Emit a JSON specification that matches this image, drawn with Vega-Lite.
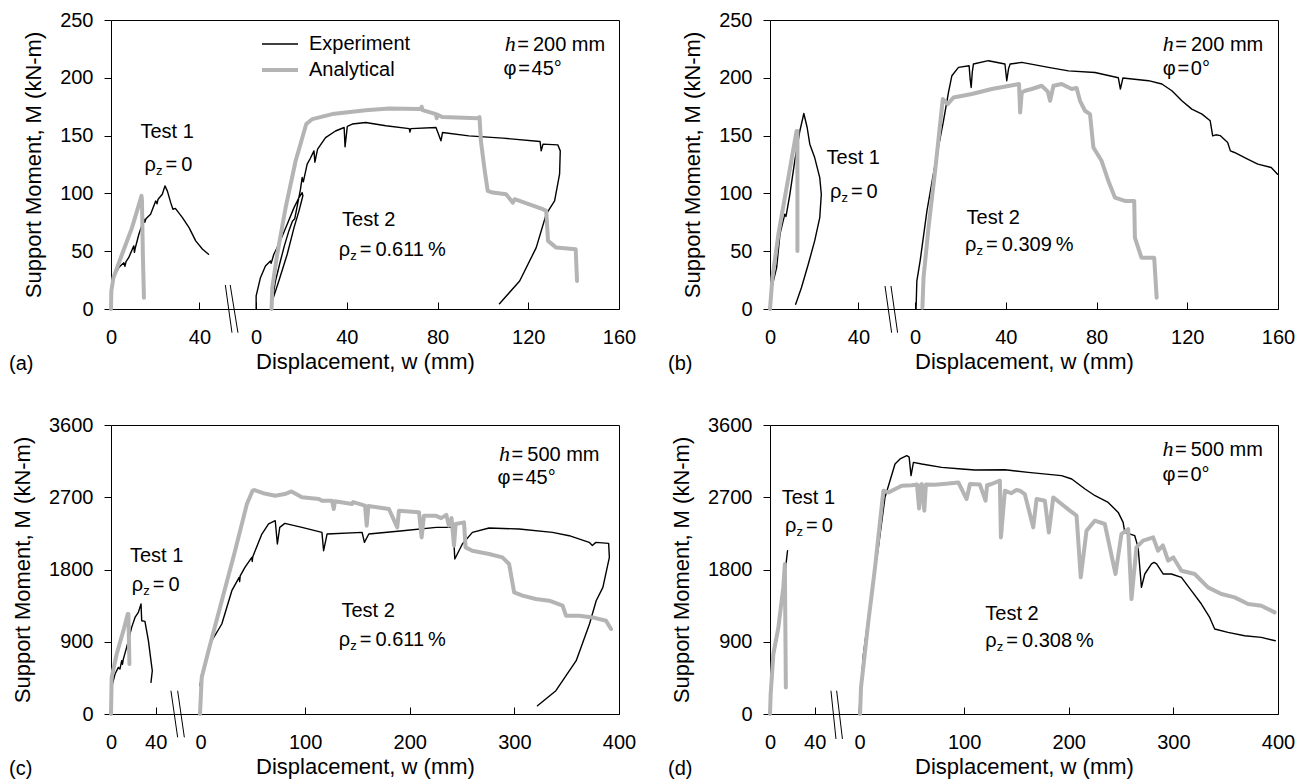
{
"$schema": "https://vega.github.io/schema/vega-lite/v6.json",
"padding": {"left": 8, "top": 9, "right": 5, "bottom": 5},
"config": {
 "font": "Liberation Sans",
 "view": {"stroke": "black", "strokeWidth": 1},
 "axis": {"grid": false, "domain": false, "tickColor": "black", "tickWidth": 1, "labelColor": "black", "titleColor": "black", "labelFont": "Liberation Sans", "titleFont": "Liberation Sans", "labelFontSize": 20, "titleFontSize": 22, "titleFontWeight": "normal", "labelFlush": false, "labelOverlap": false, "format": "d"},
 "axisX": {"tickSize": -7, "labelPadding": 25, "titlePadding": 4},
 "axisY": {"tickSize": 7, "labelPadding": 11, "titlePadding": 14},
 "text": {"font": "Liberation Sans", "fontSize": 20, "color": "black"},
 "rule": {"color": "black", "strokeWidth": 1},
 "line": {"strokeJoin": "round", "strokeCap": "round"}
},
"datasets": {
 "a1": [
  {"s":"Experiment","w":0,"M":0},{"s":"Experiment","w":0.2,"M":12.7},{"s":"Experiment","w":1.2,"M":27},{"s":"Experiment","w":3.5,"M":35.8},{"s":"Experiment","w":5.8,"M":40},{"s":"Experiment","w":6.3,"M":37},{"s":"Experiment","w":6.8,"M":41},{"s":"Experiment","w":8,"M":44.4},{"s":"Experiment","w":10.3,"M":54.6},{"s":"Experiment","w":10.6,"M":49},{"s":"Experiment","w":11,"M":53},{"s":"Experiment","w":12.6,"M":64.7},{"s":"Experiment","w":14.9,"M":77.7},{"s":"Experiment","w":15.3,"M":75},{"s":"Experiment","w":15.8,"M":78},{"s":"Experiment","w":17.9,"M":82},{"s":"Experiment","w":20.2,"M":93.5},{"s":"Experiment","w":20.8,"M":91},{"s":"Experiment","w":21.3,"M":95},{"s":"Experiment","w":23.2,"M":99.3},{"s":"Experiment","w":24.4,"M":106.5},{"s":"Experiment","w":25.5,"M":102},{"s":"Experiment","w":27,"M":92},{"s":"Experiment","w":28,"M":86.3},{"s":"Experiment","w":29.1,"M":87},{"s":"Experiment","w":32.3,"M":79},{"s":"Experiment","w":35.3,"M":70.4},{"s":"Experiment","w":38.3,"M":58.9},{"s":"Experiment","w":41.4,"M":51.7},{"s":"Experiment","w":44.1,"M":47.4},
  {"s":"Analytical","w":0,"M":0},{"s":"Analytical","w":0.15,"M":15.6},{"s":"Analytical","w":1.1,"M":27},{"s":"Analytical","w":5,"M":47.4},{"s":"Analytical","w":9.5,"M":70.4},{"s":"Analytical","w":13.8,"M":97.9},{"s":"Analytical","w":14,"M":94},{"s":"Analytical","w":14.4,"M":47.4},{"s":"Analytical","w":14.9,"M":9.8}
 ],
 "a2": [
  {"s":"Experiment","w":0,"M":0},{"s":"Experiment","w":0,"M":11.3},{"s":"Experiment","w":1.9,"M":27.1},{"s":"Experiment","w":4.1,"M":37.2},{"s":"Experiment","w":6.3,"M":41.6},{"s":"Experiment","w":6.6,"M":39.5},{"s":"Experiment","w":7,"M":42},{"s":"Experiment","w":7.8,"M":47.4},{"s":"Experiment","w":10,"M":56},{"s":"Experiment","w":13.7,"M":73.3},{"s":"Experiment","w":16.7,"M":87.7},{"s":"Experiment","w":18.9,"M":96.4},{"s":"Experiment","w":20.3,"M":100.7},{"s":"Experiment","w":20.6,"M":98},{"s":"Experiment","w":18.9,"M":84.9},{"s":"Experiment","w":16.7,"M":70.4},{"s":"Experiment","w":13.7,"M":47.4},{"s":"Experiment","w":10,"M":24.2},{"s":"Experiment","w":7.1,"M":6.9},{"s":"Experiment","w":8.5,"M":24},{"s":"Experiment","w":10.5,"M":40},{"s":"Experiment","w":12.5,"M":55},{"s":"Experiment","w":14.5,"M":68},{"s":"Experiment","w":16,"M":76},{"s":"Experiment","w":17,"M":78},{"s":"Experiment","w":18,"M":88},{"s":"Experiment","w":19.5,"M":103},{"s":"Experiment","w":20.3,"M":113.7},{"s":"Experiment","w":20.8,"M":110},{"s":"Experiment","w":22.5,"M":125.3},{"s":"Experiment","w":23.8,"M":130},{"s":"Experiment","w":25.5,"M":136.8},{"s":"Experiment","w":25.9,"M":127},{"s":"Experiment","w":27.1,"M":138.3},{"s":"Experiment","w":30.6,"M":148.3},{"s":"Experiment","w":35,"M":154},{"s":"Experiment","w":38.8,"M":157},{"s":"Experiment","w":39.2,"M":140.3},{"s":"Experiment","w":40.2,"M":158},{"s":"Experiment","w":42.4,"M":160},{"s":"Experiment","w":48.3,"M":161.3},{"s":"Experiment","w":57.2,"M":158.5},{"s":"Experiment","w":67.5,"M":156},{"s":"Experiment","w":67.8,"M":153},{"s":"Experiment","w":68.2,"M":156},{"s":"Experiment","w":79.3,"M":157},{"s":"Experiment","w":81.5,"M":145.5},{"s":"Experiment","w":82.2,"M":152.7},{"s":"Experiment","w":93.8,"M":149.8},{"s":"Experiment","w":108.7,"M":147.8},{"s":"Experiment","w":125.2,"M":144.9},{"s":"Experiment","w":125.7,"M":136.8},{"s":"Experiment","w":126.5,"M":142.6},{"s":"Experiment","w":133,"M":142},{"s":"Experiment","w":134.1,"M":136.8},{"s":"Experiment","w":133.8,"M":116.6},{"s":"Experiment","w":131.6,"M":93.5},{"s":"Experiment","w":127.9,"M":82},{"s":"Experiment","w":123.5,"M":53.1},{"s":"Experiment","w":116.2,"M":24.2},{"s":"Experiment","w":107.3,"M":4.6},
  {"s":"Analytical","w":6.8,"M":0},{"s":"Analytical","w":7.1,"M":18.4},{"s":"Analytical","w":9.3,"M":47.4},{"s":"Analytical","w":13,"M":87.7},{"s":"Analytical","w":17.4,"M":128},{"s":"Analytical","w":22.1,"M":160},{"s":"Analytical","w":24.8,"M":164.3},{"s":"Analytical","w":33.6,"M":168.6},{"s":"Analytical","w":48.3,"M":172},{"s":"Analytical","w":58.6,"M":173.5},{"s":"Analytical","w":72.6,"M":173},{"s":"Analytical","w":73,"M":175},{"s":"Analytical","w":73.4,"M":172},{"s":"Analytical","w":79.3,"M":168.6},{"s":"Analytical","w":79.6,"M":165},{"s":"Analytical","w":80,"M":168},{"s":"Analytical","w":82.2,"M":166},{"s":"Analytical","w":97.7,"M":165},{"s":"Analytical","w":98.5,"M":166},{"s":"Analytical","w":99.1,"M":145.5},{"s":"Analytical","w":100.6,"M":122.4},{"s":"Analytical","w":102.1,"M":102.2},{"s":"Analytical","w":104.3,"M":100.7},{"s":"Analytical","w":110.2,"M":99.3},{"s":"Analytical","w":113.2,"M":92},{"s":"Analytical","w":114,"M":95},{"s":"Analytical","w":120.5,"M":90.6},{"s":"Analytical","w":126.4,"M":86.3},{"s":"Analytical","w":127.9,"M":84.9},{"s":"Analytical","w":128.7,"M":58.9},{"s":"Analytical","w":132.3,"M":53.1},{"s":"Analytical","w":140.9,"M":51.7},{"s":"Analytical","w":141.5,"M":24.2}
 ],
 "b1": [
  {"s":"Experiment","w":0,"M":0},{"s":"Experiment","w":0.8,"M":18.4},{"s":"Experiment","w":1.9,"M":27.1},{"s":"Experiment","w":3,"M":35.8},{"s":"Experiment","w":4.5,"M":64.7},{"s":"Experiment","w":6.7,"M":82},{"s":"Experiment","w":7.2,"M":80},{"s":"Experiment","w":7.6,"M":84},{"s":"Experiment","w":9,"M":99.3},{"s":"Experiment","w":11.2,"M":128.2},{"s":"Experiment","w":13.5,"M":154},{"s":"Experiment","w":15.3,"M":169.1},{"s":"Experiment","w":16.8,"M":157},{"s":"Experiment","w":18,"M":142.6},{"s":"Experiment","w":20.2,"M":131},{"s":"Experiment","w":22.5,"M":113.7},{"s":"Experiment","w":23.2,"M":99.3},{"s":"Experiment","w":22.5,"M":79},{"s":"Experiment","w":20.2,"M":58.9},{"s":"Experiment","w":17.3,"M":38.7},{"s":"Experiment","w":14.2,"M":18.4},{"s":"Experiment","w":11.6,"M":4.1},
  {"s":"Analytical","w":0,"M":0},{"s":"Analytical","w":1.1,"M":27.1},{"s":"Analytical","w":3.8,"M":64.7},{"s":"Analytical","w":7.5,"M":105},{"s":"Analytical","w":12,"M":154},{"s":"Analytical","w":12.4,"M":154},{"s":"Analytical","w":12.4,"M":50.2}
 ],
 "b2": [
  {"s":"Experiment","w":0.4,"M":0},{"s":"Experiment","w":0.75,"M":24.2},{"s":"Experiment","w":2.2,"M":41.6},{"s":"Experiment","w":5.2,"M":84.9},{"s":"Experiment","w":8.8,"M":125.3},{"s":"Experiment","w":12.5,"M":162.8},{"s":"Experiment","w":14.7,"M":187.3},{"s":"Experiment","w":16.2,"M":201.8},{"s":"Experiment","w":19.1,"M":209},{"s":"Experiment","w":23.8,"M":210.4},{"s":"Experiment","w":24.2,"M":200},{"s":"Experiment","w":24.7,"M":191.6},{"s":"Experiment","w":25.2,"M":205},{"s":"Experiment","w":25.7,"M":211.9},{"s":"Experiment","w":32.3,"M":214.8},{"s":"Experiment","w":39.6,"M":211.9},{"s":"Experiment","w":40.4,"M":197.5},{"s":"Experiment","w":41.2,"M":208},{"s":"Experiment","w":41.9,"M":211.9},{"s":"Experiment","w":47,"M":213.3},{"s":"Experiment","w":58.8,"M":209},{"s":"Experiment","w":67.6,"M":206},{"s":"Experiment","w":79.3,"M":204.6},{"s":"Experiment","w":89.6,"M":200},{"s":"Experiment","w":90.5,"M":190.3},{"s":"Experiment","w":91.6,"M":199.8},{"s":"Experiment","w":102.9,"M":197.5},{"s":"Experiment","w":108.8,"M":194.6},{"s":"Experiment","w":113.2,"M":188.8},{"s":"Experiment","w":117.6,"M":180.1},{"s":"Experiment","w":122,"M":172.9},{"s":"Experiment","w":126.5,"M":168.6},{"s":"Experiment","w":130.1,"M":162.8},{"s":"Experiment","w":131.2,"M":149.8},{"s":"Experiment","w":132.6,"M":150.7},{"s":"Experiment","w":134.5,"M":150},{"s":"Experiment","w":137.8,"M":144},{"s":"Experiment","w":139,"M":136.8},{"s":"Experiment","w":140.8,"M":135.4},{"s":"Experiment","w":146.6,"M":129.6},{"s":"Experiment","w":151.1,"M":125.3},{"s":"Experiment","w":157,"M":122.4},{"s":"Experiment","w":159.8,"M":116.6},
  {"s":"Analytical","w":3.2,"M":1.1},{"s":"Analytical","w":3.7,"M":27.1},{"s":"Analytical","w":5.9,"M":70.4},{"s":"Analytical","w":8.8,"M":119.5},{"s":"Analytical","w":12.2,"M":181.6},{"s":"Analytical","w":14.4,"M":177.3},{"s":"Analytical","w":16.9,"M":183},{"s":"Analytical","w":25,"M":186},{"s":"Analytical","w":33.8,"M":190.3},{"s":"Analytical","w":44.1,"M":194},{"s":"Analytical","w":45.8,"M":194.6},{"s":"Analytical","w":46.3,"M":170},{"s":"Analytical","w":47,"M":187.3},{"s":"Analytical","w":48.5,"M":188.8},{"s":"Analytical","w":51.4,"M":190.3},{"s":"Analytical","w":55.8,"M":193.1},{"s":"Analytical","w":58.5,"M":188},{"s":"Analytical","w":59.5,"M":180.1},{"s":"Analytical","w":61,"M":193.1},{"s":"Analytical","w":64.6,"M":194.6},{"s":"Analytical","w":69,"M":190.3},{"s":"Analytical","w":71.2,"M":191.1},{"s":"Analytical","w":72.7,"M":180.1},{"s":"Analytical","w":74.9,"M":171.5},{"s":"Analytical","w":77.1,"M":168.6},{"s":"Analytical","w":78.6,"M":139.7},{"s":"Analytical","w":82.2,"M":128.2},{"s":"Analytical","w":85.2,"M":110.8},{"s":"Analytical","w":88.1,"M":96.4},{"s":"Analytical","w":92.5,"M":93.5},{"s":"Analytical","w":96.6,"M":93.5},{"s":"Analytical","w":96.9,"M":61.7},{"s":"Analytical","w":99.8,"M":44.4},{"s":"Analytical","w":105.4,"M":44.4},{"s":"Analytical","w":106.5,"M":9.8}
 ],
 "c1": [
  {"s":"Experiment","w":0,"M":0},{"s":"Experiment","w":0.6,"M":331},{"s":"Experiment","w":3.6,"M":498},{"s":"Experiment","w":6.6,"M":581},{"s":"Experiment","w":8,"M":560},{"s":"Experiment","w":9.6,"M":664},{"s":"Experiment","w":10.3,"M":620},{"s":"Experiment","w":11,"M":680},{"s":"Experiment","w":14,"M":830},{"s":"Experiment","w":18.5,"M":1079},{"s":"Experiment","w":21.5,"M":1203},{"s":"Experiment","w":24.5,"M":1266},{"s":"Experiment","w":26.9,"M":1370},{"s":"Experiment","w":27.5,"M":1162},{"s":"Experiment","w":30.4,"M":1154},{"s":"Experiment","w":33.5,"M":913},{"s":"Experiment","w":35.8,"M":664},{"s":"Experiment","w":37,"M":539},{"s":"Experiment","w":35.8,"M":394},
  {"s":"Analytical","w":0,"M":0},{"s":"Analytical","w":0.6,"M":456},{"s":"Analytical","w":5.1,"M":747},{"s":"Analytical","w":11.1,"M":1038},{"s":"Analytical","w":15,"M":1246},{"s":"Analytical","w":15.6,"M":1246},{"s":"Analytical","w":16.5,"M":623}
 ],
 "c2": [
  {"s":"Experiment","w":-0.4,"M":353},{"s":"Experiment","w":1.2,"M":498},{"s":"Experiment","w":10.9,"M":913},{"s":"Experiment","w":20.4,"M":1121},{"s":"Experiment","w":30,"M":1536},{"s":"Experiment","w":37,"M":1702},{"s":"Experiment","w":37.5,"M":1650},{"s":"Experiment","w":38,"M":1720},{"s":"Experiment","w":42.5,"M":1826},{"s":"Experiment","w":49.1,"M":1951},{"s":"Experiment","w":49.5,"M":1900},{"s":"Experiment","w":50,"M":1960},{"s":"Experiment","w":58.7,"M":2242},{"s":"Experiment","w":65.1,"M":2367},{"s":"Experiment","w":71.5,"M":2408},{"s":"Experiment","w":73.5,"M":2118},{"s":"Experiment","w":75.8,"M":2325},{"s":"Experiment","w":80.6,"M":2374},{"s":"Experiment","w":97,"M":2325},{"s":"Experiment","w":116.1,"M":2262},{"s":"Experiment","w":117.7,"M":2034},{"s":"Experiment","w":121,"M":2242},{"s":"Experiment","w":154.5,"M":2262},{"s":"Experiment","w":156.7,"M":2138},{"s":"Experiment","w":160.9,"M":2242},{"s":"Experiment","w":193.4,"M":2283},{"s":"Experiment","w":225.4,"M":2325},{"s":"Experiment","w":241.4,"M":2325},{"s":"Experiment","w":243.1,"M":1931},{"s":"Experiment","w":250.3,"M":2118},{"s":"Experiment","w":259.9,"M":2262},{"s":"Experiment","w":275.8,"M":2317},{"s":"Experiment","w":304.5,"M":2304},{"s":"Experiment","w":336.4,"M":2262},{"s":"Experiment","w":352.4,"M":2221},{"s":"Experiment","w":371.5,"M":2138},{"s":"Experiment","w":374.5,"M":2100},{"s":"Experiment","w":377.9,"M":2138},{"s":"Experiment","w":390.1,"M":2125},{"s":"Experiment","w":390.8,"M":1951},{"s":"Experiment","w":384.6,"M":1577},{"s":"Experiment","w":378.2,"M":1411},{"s":"Experiment","w":371.8,"M":1121},{"s":"Experiment","w":359.1,"M":664},{"s":"Experiment","w":339.7,"M":290},{"s":"Experiment","w":322.1,"M":103},
  {"s":"Analytical","w":-0.4,"M":0},{"s":"Analytical","w":1.2,"M":456},{"s":"Analytical","w":7.7,"M":789},{"s":"Analytical","w":20.4,"M":1411},{"s":"Analytical","w":33.1,"M":2034},{"s":"Analytical","w":44.4,"M":2616},{"s":"Analytical","w":49.8,"M":2782},{"s":"Analytical","w":51.6,"M":2790},{"s":"Analytical","w":60,"M":2750},{"s":"Analytical","w":71.5,"M":2719},{"s":"Analytical","w":80.6,"M":2740},{"s":"Analytical","w":87,"M":2773},{"s":"Analytical","w":97,"M":2700},{"s":"Analytical","w":113.2,"M":2678},{"s":"Analytical","w":116.1,"M":2657},{"s":"Analytical","w":125.7,"M":2657},{"s":"Analytical","w":127.4,"M":2554},{"s":"Analytical","w":128.5,"M":2650},{"s":"Analytical","w":144.9,"M":2616},{"s":"Analytical","w":146,"M":2640},{"s":"Analytical","w":157.3,"M":2595},{"s":"Analytical","w":158.9,"M":2346},{"s":"Analytical","w":160.5,"M":2590},{"s":"Analytical","w":180.1,"M":2554},{"s":"Analytical","w":188.1,"M":2325},{"s":"Analytical","w":189.7,"M":2533},{"s":"Analytical","w":208.9,"M":2512},{"s":"Analytical","w":211.4,"M":2200},{"s":"Analytical","w":213.6,"M":2471},{"s":"Analytical","w":224.7,"M":2471},{"s":"Analytical","w":230,"M":2440},{"s":"Analytical","w":235,"M":2480},{"s":"Analytical","w":237.4,"M":2346},{"s":"Analytical","w":240,"M":2440},{"s":"Analytical","w":242.3,"M":2097},{"s":"Analytical","w":243.9,"M":2367},{"s":"Analytical","w":251.9,"M":2387},{"s":"Analytical","w":253.4,"M":2076},{"s":"Analytical","w":259.8,"M":2034},{"s":"Analytical","w":275.8,"M":1993},{"s":"Analytical","w":288.6,"M":1951},{"s":"Analytical","w":295,"M":1868},{"s":"Analytical","w":299.8,"M":1515},{"s":"Analytical","w":307.8,"M":1474},{"s":"Analytical","w":320.5,"M":1432},{"s":"Analytical","w":333.3,"M":1411},{"s":"Analytical","w":346.1,"M":1349},{"s":"Analytical","w":349.3,"M":1225},{"s":"Analytical","w":362.1,"M":1225},{"s":"Analytical","w":374.8,"M":1203},{"s":"Analytical","w":387.6,"M":1162},{"s":"Analytical","w":392.4,"M":1059}
 ],
 "d1": [
  {"s":"Experiment","w":0,"M":0},{"s":"Experiment","w":0.9,"M":374},{"s":"Experiment","w":3,"M":705},{"s":"Experiment","w":6,"M":913},{"s":"Experiment","w":8.9,"M":1203},{"s":"Experiment","w":11.9,"M":1536},{"s":"Experiment","w":14,"M":1826},{"s":"Experiment","w":15.7,"M":2034},
  {"s":"Analytical","w":0,"M":0},{"s":"Analytical","w":0.6,"M":249},{"s":"Analytical","w":3,"M":747},{"s":"Analytical","w":7.5,"M":1079},{"s":"Analytical","w":11.9,"M":1577},{"s":"Analytical","w":13.3,"M":1868},{"s":"Analytical","w":14.2,"M":331}
 ],
 "d2": [
  {"s":"Experiment","w":-0.4,"M":0},{"s":"Experiment","w":3.8,"M":747},{"s":"Experiment","w":10.1,"M":1370},{"s":"Experiment","w":18.1,"M":2076},{"s":"Experiment","w":24.4,"M":2698},{"s":"Experiment","w":29.2,"M":2906},{"s":"Experiment","w":34,"M":3114},{"s":"Experiment","w":38.8,"M":3177},{"s":"Experiment","w":45.2,"M":3218},{"s":"Experiment","w":47.5,"M":3200},{"s":"Experiment","w":49.3,"M":2969},{"s":"Experiment","w":51.6,"M":3134},{"s":"Experiment","w":59.5,"M":3114},{"s":"Experiment","w":78.6,"M":3072},{"s":"Experiment","w":97.7,"M":3052},{"s":"Experiment","w":110.4,"M":3040},{"s":"Experiment","w":139,"M":3043},{"s":"Experiment","w":161.3,"M":3010},{"s":"Experiment","w":193.1,"M":2969},{"s":"Experiment","w":202.9,"M":2927},{"s":"Experiment","w":215.6,"M":2803},{"s":"Experiment","w":225.2,"M":2719},{"s":"Experiment","w":237.7,"M":2636},{"s":"Experiment","w":247.3,"M":2511},{"s":"Experiment","w":252,"M":2387},{"s":"Experiment","w":253.6,"M":2262},{"s":"Experiment","w":263.1,"M":2221},{"s":"Experiment","w":266.3,"M":2076},{"s":"Experiment","w":269.5,"M":1577},{"s":"Experiment","w":272.7,"M":1744},{"s":"Experiment","w":279.1,"M":1869},{"s":"Experiment","w":281.6,"M":1889},{"s":"Experiment","w":284,"M":1870},{"s":"Experiment","w":290.2,"M":1744},{"s":"Experiment","w":298.1,"M":1744},{"s":"Experiment","w":307.7,"M":1702},{"s":"Experiment","w":317.2,"M":1536},{"s":"Experiment","w":326.8,"M":1370},{"s":"Experiment","w":334.7,"M":1203},{"s":"Experiment","w":339.5,"M":1059},{"s":"Experiment","w":352.2,"M":1017},{"s":"Experiment","w":368.1,"M":975},{"s":"Experiment","w":384,"M":954},{"s":"Experiment","w":397.4,"M":913},
  {"s":"Analytical","w":0.6,"M":0},{"s":"Analytical","w":1.5,"M":331},{"s":"Analytical","w":8.6,"M":1162},{"s":"Analytical","w":14.9,"M":1826},{"s":"Analytical","w":22.9,"M":2782},{"s":"Analytical","w":27.7,"M":2760},{"s":"Analytical","w":40.4,"M":2844},{"s":"Analytical","w":50,"M":2850},{"s":"Analytical","w":55,"M":2860},{"s":"Analytical","w":57,"M":2560},{"s":"Analytical","w":58.5,"M":2850},{"s":"Analytical","w":59.5,"M":2865},{"s":"Analytical","w":62,"M":2533},{"s":"Analytical","w":63.5,"M":2860},{"s":"Analytical","w":72.2,"M":2857},{"s":"Analytical","w":85,"M":2870},{"s":"Analytical","w":94.5,"M":2885},{"s":"Analytical","w":102.4,"M":2678},{"s":"Analytical","w":105.6,"M":2865},{"s":"Analytical","w":115,"M":2860},{"s":"Analytical","w":120.5,"M":2657},{"s":"Analytical","w":122,"M":2850},{"s":"Analytical","w":126.3,"M":2865},{"s":"Analytical","w":134.2,"M":2906},{"s":"Analytical","w":135.2,"M":2200},{"s":"Analytical","w":139,"M":2782},{"s":"Analytical","w":145,"M":2750},{"s":"Analytical","w":150,"M":2790},{"s":"Analytical","w":153.3,"M":2782},{"s":"Analytical","w":158,"M":2740},{"s":"Analytical","w":166.1,"M":2325},{"s":"Analytical","w":169.3,"M":2678},{"s":"Analytical","w":177.2,"M":2657},{"s":"Analytical","w":181,"M":2262},{"s":"Analytical","w":185.2,"M":2698},{"s":"Analytical","w":193.1,"M":2616},{"s":"Analytical","w":201.1,"M":2533},{"s":"Analytical","w":207.5,"M":2471},{"s":"Analytical","w":211.5,"M":1702},{"s":"Analytical","w":217,"M":2283},{"s":"Analytical","w":224.9,"M":2408},{"s":"Analytical","w":234.5,"M":2367},{"s":"Analytical","w":244.7,"M":1744},{"s":"Analytical","w":250.4,"M":2242},{"s":"Analytical","w":256.8,"M":2304},{"s":"Analytical","w":260,"M":1432},{"s":"Analytical","w":264.7,"M":2076},{"s":"Analytical","w":271.1,"M":2159},{"s":"Analytical","w":280.7,"M":2200},{"s":"Analytical","w":285.4,"M":2034},{"s":"Analytical","w":290,"M":2100},{"s":"Analytical","w":295,"M":1910},{"s":"Analytical","w":300,"M":1950},{"s":"Analytical","w":307.7,"M":1785},{"s":"Analytical","w":320.4,"M":1744},{"s":"Analytical","w":333.1,"M":1577},{"s":"Analytical","w":345.9,"M":1495},{"s":"Analytical","w":358.6,"M":1453},{"s":"Analytical","w":371.4,"M":1370},{"s":"Analytical","w":384.1,"M":1349},{"s":"Analytical","w":396.8,"M":1266}
 ],
 "breaks": [
  {"p":"a","w":51.7,"w2":54.7,"M":20.8,"M2":-20.5},{"p":"a","w":53.9,"w2":57.4,"M":20.8,"M2":-20.5},
  {"p":"b","w":52,"w2":55,"M":19.9,"M2":-20.5},{"p":"b","w":54.7,"w2":57.7,"M":19.9,"M2":-20.5},
  {"p":"c","w":53.7,"w2":59.7,"M":290,"M2":-291},{"p":"c","w":59.7,"w2":65.7,"M":290,"M2":-291},
  {"p":"d","w":54.6,"w2":59.1,"M":290,"M2":-311},{"p":"d","w":59.7,"w2":64.9,"M":290,"M2":-311}
 ],
 "notes": [
  {"p":"a","g":1,"k":"plain","w":13.3,"M":147.8,"t":"Test 1"},{"p":"a","g":1,"k":"rho","w":15.2,"M":119,"t":"=\u20090"},
  {"p":"a","g":2,"k":"plain","w":37.9,"M":71.9,"t":"Test 2"},{"p":"a","g":2,"k":"rho","w":36.4,"M":45.9,"t":"=\u20090.611\u2009%"},
  {"p":"a","g":2,"k":"h","w":109.6,"M":223.4,"t":"=\u2009200 mm"},{"p":"a","g":2,"k":"plain","w":109.1,"M":202.6,"t":"\u03c6\u200a=\u200a45\u00b0"},
  {"p":"b","g":1,"k":"plain","w":25.6,"M":125.3,"t":"Test 1"},{"p":"b","g":1,"k":"rho","w":27.1,"M":96.4,"t":"=\u20090"},
  {"p":"b","g":2,"k":"plain","w":22.7,"M":73.3,"t":"Test 2"},{"p":"b","g":2,"k":"rho","w":22,"M":50.2,"t":"=\u20090.309\u2009%"},
  {"p":"b","g":2,"k":"h","w":109.2,"M":223.4,"t":"=\u2009200 mm"},{"p":"b","g":2,"k":"plain","w":109.2,"M":202.6,"t":"\u03c6\u200a=\u200a0\u00b0"},
  {"p":"c","g":1,"k":"plain","w":17,"M":1888,"t":"Test 1"},{"p":"c","g":1,"k":"rho","w":18.6,"M":1536,"t":"=\u20090"},
  {"p":"c","g":2,"k":"plain","w":134.7,"M":1203,"t":"Test 2"},{"p":"c","g":2,"k":"rho","w":132.2,"M":851,"t":"=\u20090.611\u2009%"},
  {"p":"c","g":2,"k":"h","w":285.4,"M":3155,"t":"=\u2009500 mm"},{"p":"c","g":2,"k":"plain","w":283.8,"M":2865,"t":"\u03c6\u200a=\u200a45\u00b0"},
  {"p":"d","g":1,"k":"plain","w":10.5,"M":2616,"t":"Test 1"},{"p":"d","g":1,"k":"rho","w":13.4,"M":2262,"t":"=\u20090"},
  {"p":"d","g":2,"k":"plain","w":120.3,"M":1171,"t":"Test 2"},{"p":"d","g":2,"k":"rho","w":120.3,"M":830,"t":"=\u20090.308\u2009%"},
  {"p":"d","g":2,"k":"h","w":289.6,"M":3218,"t":"=\u2009500 mm"},{"p":"d","g":2,"k":"plain","w":289.6,"M":2906,"t":"\u03c6\u200a=\u200a0\u00b0"}
 ]
},
"columns": 2,
"spacing": {"row": 116, "column": 151},
"bounds": "flush",
"resolve": {"scale": {"color": "independent", "strokeWidth": "independent"}},
"concat": [
 {
  "width": 508, "height": 289,
  "title": {"text": "(a)", "orient": "bottom", "anchor": "start", "frame": "group", "dx": -102, "dy": -18, "offset": 0, "fontSize": 20, "fontWeight": "normal", "font": "Liberation Sans", "color": "black"},
  "encoding": {"y": {"field": "M", "type": "quantitative", "scale": {"domain": [0, 250], "nice": false, "zero": false}, "axis": {"values": [0, 50, 100, 150, 200, 250], "title": "Support Moment, M (kN-m)"}}},
  "resolve": {"scale": {"x": "independent"}},
  "layer": [
   {
    "encoding": {"x": {"field": "w", "type": "quantitative", "scale": {"domain": [0, 52], "range": [0, 115], "nice": false, "zero": false}, "axis": {"values": [0, 40], "title": null, "orient": "bottom"}}},
    "layer": [
     {"data": {"name": "a1"}, "transform": [{"filter": "datum.s=='Experiment'"}], "mark": {"type": "line"}, "encoding": {"order": {"value": null}, "color": {"field": "s", "type": "nominal", "scale": {"domain": ["Experiment", "Analytical"], "range": ["#000000", "#b4b4b4"]}, "legend": {"orient": "none", "legendX": 158, "legendY": 14, "title": null, "symbolType": "M-2,0H2", "symbolSize": 324, "labelFontSize": 20, "labelFont": "Liberation Sans", "labelColor": "black", "labelOffset": 18, "rowPadding": 5, "padding": 0}}, "strokeWidth": {"field": "s", "type": "nominal", "scale": {"domain": ["Experiment", "Analytical"], "range": [1.4, 4]}, "legend": {"orient": "none", "legendX": 158, "legendY": 14, "title": null, "symbolType": "M-2,0H2", "symbolSize": 324, "labelFontSize": 20, "labelFont": "Liberation Sans", "labelColor": "black", "labelOffset": 18, "rowPadding": 5, "padding": 0}}}},
     {"data": {"name": "a1"}, "transform": [{"filter": "datum.s=='Analytical'"}], "mark": {"type": "line"}, "encoding": {"order": {"value": null}, "color": {"field": "s", "type": "nominal"}, "strokeWidth": {"field": "s", "type": "nominal"}}},
     {"data": {"name": "breaks"}, "transform": [{"filter": "datum.p=='a'"}], "mark": {"type": "rule"}, "encoding": {"x2": {"field": "w2"}, "y2": {"field": "M2"}}},
     {"data": {"name": "notes"}, "transform": [{"filter": "datum.p=='a' && datum.g==1 && datum.k=='plain'"}], "mark": {"type": "text", "align": "left", "baseline": "alphabetic"}, "encoding": {"text": {"field": "t"}}},
     {"data": {"name": "notes"}, "transform": [{"filter": "datum.p=='a' && datum.g==1 && datum.k=='rho'"}], "layer": [
       {"mark": {"type": "text", "align": "left", "baseline": "alphabetic", "text": "\u03c1"}},
       {"mark": {"type": "text", "align": "left", "baseline": "alphabetic", "text": "z", "fontSize": 13, "dx": 11.5, "dy": 4}},
       {"mark": {"type": "text", "align": "left", "baseline": "alphabetic", "dx": 21}, "encoding": {"text": {"field": "t"}}}
     ]}
    ]
   },
   {
    "encoding": {"x": {"field": "w", "type": "quantitative", "scale": {"domain": [-8, 160], "range": [127, 508], "nice": false, "zero": false}, "axis": {"values": [0, 40, 80, 120, 160], "title": "Displacement, w (mm)", "titleX": 254, "orient": "bottom"}}},
    "layer": [
     {"data": {"name": "a2"}, "transform": [{"filter": "datum.s=='Experiment'"}], "mark": {"type": "line"}, "encoding": {"order": {"value": null}, "color": {"field": "s", "type": "nominal"}, "strokeWidth": {"field": "s", "type": "nominal"}}},
     {"data": {"name": "a2"}, "transform": [{"filter": "datum.s=='Analytical'"}], "mark": {"type": "line"}, "encoding": {"order": {"value": null}, "color": {"field": "s", "type": "nominal"}, "strokeWidth": {"field": "s", "type": "nominal"}}},
     {"data": {"name": "notes"}, "transform": [{"filter": "datum.p=='a' && datum.g==2 && datum.k=='plain'"}], "mark": {"type": "text", "align": "left", "baseline": "alphabetic"}, "encoding": {"text": {"field": "t"}}},
     {"data": {"name": "notes"}, "transform": [{"filter": "datum.p=='a' && datum.g==2 && datum.k=='rho'"}], "layer": [
       {"mark": {"type": "text", "align": "left", "baseline": "alphabetic", "text": "\u03c1"}},
       {"mark": {"type": "text", "align": "left", "baseline": "alphabetic", "text": "z", "fontSize": 13, "dx": 11.5, "dy": 4}},
       {"mark": {"type": "text", "align": "left", "baseline": "alphabetic", "dx": 21}, "encoding": {"text": {"field": "t"}}}
     ]},
     {"data": {"name": "notes"}, "transform": [{"filter": "datum.p=='a' && datum.g==2 && datum.k=='h'"}], "layer": [
       {"mark": {"type": "text", "align": "left", "baseline": "alphabetic", "text": "h", "font": "Liberation Serif", "fontStyle": "italic", "fontSize": 22}},
       {"mark": {"type": "text", "align": "left", "baseline": "alphabetic", "dx": 12.5}, "encoding": {"text": {"field": "t"}}}
     ]}
    ]
   }
  ]
 },
 {
  "width": 508, "height": 289,
  "title": {"text": "(b)", "orient": "bottom", "anchor": "start", "frame": "group", "dx": -102, "dy": -18, "offset": 0, "fontSize": 20, "fontWeight": "normal", "font": "Liberation Sans", "color": "black"},
  "encoding": {"y": {"field": "M", "type": "quantitative", "scale": {"domain": [0, 250], "nice": false, "zero": false}, "axis": {"values": [0, 50, 100, 150, 200, 250], "title": "Support Moment, M (kN-m)"}}},
  "resolve": {"scale": {"x": "independent"}},
  "layer": [
   {
    "encoding": {"x": {"field": "w", "type": "quantitative", "scale": {"domain": [0, 52], "range": [0, 115], "nice": false, "zero": false}, "axis": {"values": [0, 40], "title": null, "orient": "bottom"}}},
    "layer": [
     {"data": {"name": "b1"}, "transform": [{"filter": "datum.s=='Experiment'"}], "mark": {"type": "line"}, "encoding": {"order": {"value": null}, "color": {"field": "s", "type": "nominal", "scale": {"domain": ["Experiment", "Analytical"], "range": ["#000000", "#b4b4b4"]}, "legend": null}, "strokeWidth": {"field": "s", "type": "nominal", "scale": {"domain": ["Experiment", "Analytical"], "range": [1.4, 4]}, "legend": null}}},
     {"data": {"name": "b1"}, "transform": [{"filter": "datum.s=='Analytical'"}], "mark": {"type": "line"}, "encoding": {"order": {"value": null}, "color": {"field": "s", "type": "nominal", "legend": null}, "strokeWidth": {"field": "s", "type": "nominal", "legend": null}}},
     {"data": {"name": "breaks"}, "transform": [{"filter": "datum.p=='b'"}], "mark": {"type": "rule"}, "encoding": {"x2": {"field": "w2"}, "y2": {"field": "M2"}}},
     {"data": {"name": "notes"}, "transform": [{"filter": "datum.p=='b' && datum.g==1 && datum.k=='plain'"}], "mark": {"type": "text", "align": "left", "baseline": "alphabetic"}, "encoding": {"text": {"field": "t"}}},
     {"data": {"name": "notes"}, "transform": [{"filter": "datum.p=='b' && datum.g==1 && datum.k=='rho'"}], "layer": [
       {"mark": {"type": "text", "align": "left", "baseline": "alphabetic", "text": "\u03c1"}},
       {"mark": {"type": "text", "align": "left", "baseline": "alphabetic", "text": "z", "fontSize": 13, "dx": 11.5, "dy": 4}},
       {"mark": {"type": "text", "align": "left", "baseline": "alphabetic", "dx": 21}, "encoding": {"text": {"field": "t"}}}
     ]}
    ]
   },
   {
    "encoding": {"x": {"field": "w", "type": "quantitative", "scale": {"domain": [-8, 160], "range": [127, 508], "nice": false, "zero": false}, "axis": {"values": [0, 40, 80, 120, 160], "title": "Displacement, w (mm)", "titleX": 254, "orient": "bottom"}}},
    "layer": [
     {"data": {"name": "b2"}, "transform": [{"filter": "datum.s=='Experiment'"}], "mark": {"type": "line"}, "encoding": {"order": {"value": null}, "color": {"field": "s", "type": "nominal", "legend": null}, "strokeWidth": {"field": "s", "type": "nominal", "legend": null}}},
     {"data": {"name": "b2"}, "transform": [{"filter": "datum.s=='Analytical'"}], "mark": {"type": "line"}, "encoding": {"order": {"value": null}, "color": {"field": "s", "type": "nominal", "legend": null}, "strokeWidth": {"field": "s", "type": "nominal", "legend": null}}},
     {"data": {"name": "notes"}, "transform": [{"filter": "datum.p=='b' && datum.g==2 && datum.k=='plain'"}], "mark": {"type": "text", "align": "left", "baseline": "alphabetic"}, "encoding": {"text": {"field": "t"}}},
     {"data": {"name": "notes"}, "transform": [{"filter": "datum.p=='b' && datum.g==2 && datum.k=='rho'"}], "layer": [
       {"mark": {"type": "text", "align": "left", "baseline": "alphabetic", "text": "\u03c1"}},
       {"mark": {"type": "text", "align": "left", "baseline": "alphabetic", "text": "z", "fontSize": 13, "dx": 11.5, "dy": 4}},
       {"mark": {"type": "text", "align": "left", "baseline": "alphabetic", "dx": 21}, "encoding": {"text": {"field": "t"}}}
     ]},
     {"data": {"name": "notes"}, "transform": [{"filter": "datum.p=='b' && datum.g==2 && datum.k=='h'"}], "layer": [
       {"mark": {"type": "text", "align": "left", "baseline": "alphabetic", "text": "h", "font": "Liberation Serif", "fontStyle": "italic", "fontSize": 22}},
       {"mark": {"type": "text", "align": "left", "baseline": "alphabetic", "dx": 12.5}, "encoding": {"text": {"field": "t"}}}
     ]}
    ]
   }
  ]
 },
 {
  "width": 508, "height": 289,
  "title": {"text": "(c)", "orient": "bottom", "anchor": "start", "frame": "group", "dx": -102, "dy": -18, "offset": 0, "fontSize": 20, "fontWeight": "normal", "font": "Liberation Sans", "color": "black"},
  "encoding": {"y": {"field": "M", "type": "quantitative", "scale": {"domain": [0, 3600], "nice": false, "zero": false}, "axis": {"values": [0, 900, 1800, 2700, 3600], "title": "Support Moment, M (kN-m)"}}},
  "resolve": {"scale": {"x": "independent"}},
  "layer": [
   {
    "encoding": {"x": {"field": "w", "type": "quantitative", "scale": {"domain": [0, 55], "range": [0, 61.4], "nice": false, "zero": false}, "axis": {"values": [0, 40], "title": null, "orient": "bottom"}}},
    "layer": [
     {"data": {"name": "c1"}, "transform": [{"filter": "datum.s=='Experiment'"}], "mark": {"type": "line"}, "encoding": {"order": {"value": null}, "color": {"field": "s", "type": "nominal", "scale": {"domain": ["Experiment", "Analytical"], "range": ["#000000", "#b4b4b4"]}, "legend": null}, "strokeWidth": {"field": "s", "type": "nominal", "scale": {"domain": ["Experiment", "Analytical"], "range": [1.4, 4]}, "legend": null}}},
     {"data": {"name": "c1"}, "transform": [{"filter": "datum.s=='Analytical'"}], "mark": {"type": "line"}, "encoding": {"order": {"value": null}, "color": {"field": "s", "type": "nominal", "legend": null}, "strokeWidth": {"field": "s", "type": "nominal", "legend": null}}},
     {"data": {"name": "breaks"}, "transform": [{"filter": "datum.p=='c'"}], "mark": {"type": "rule"}, "encoding": {"x2": {"field": "w2"}, "y2": {"field": "M2"}}},
     {"data": {"name": "notes"}, "transform": [{"filter": "datum.p=='c' && datum.g==1 && datum.k=='plain'"}], "mark": {"type": "text", "align": "left", "baseline": "alphabetic"}, "encoding": {"text": {"field": "t"}}},
     {"data": {"name": "notes"}, "transform": [{"filter": "datum.p=='c' && datum.g==1 && datum.k=='rho'"}], "layer": [
       {"mark": {"type": "text", "align": "left", "baseline": "alphabetic", "text": "\u03c1"}},
       {"mark": {"type": "text", "align": "left", "baseline": "alphabetic", "text": "z", "fontSize": 13, "dx": 11.5, "dy": 4}},
       {"mark": {"type": "text", "align": "left", "baseline": "alphabetic", "dx": 21}, "encoding": {"text": {"field": "t"}}}
     ]}
    ]
   },
   {
    "encoding": {"x": {"field": "w", "type": "quantitative", "scale": {"domain": [-16, 400], "range": [72.7, 508], "nice": false, "zero": false}, "axis": {"values": [0, 100, 200, 300, 400], "title": "Displacement, w (mm)", "titleX": 254, "orient": "bottom"}}},
    "layer": [
     {"data": {"name": "c2"}, "transform": [{"filter": "datum.s=='Experiment'"}], "mark": {"type": "line"}, "encoding": {"order": {"value": null}, "color": {"field": "s", "type": "nominal", "legend": null}, "strokeWidth": {"field": "s", "type": "nominal", "legend": null}}},
     {"data": {"name": "c2"}, "transform": [{"filter": "datum.s=='Analytical'"}], "mark": {"type": "line"}, "encoding": {"order": {"value": null}, "color": {"field": "s", "type": "nominal", "legend": null}, "strokeWidth": {"field": "s", "type": "nominal", "legend": null}}},
     {"data": {"name": "notes"}, "transform": [{"filter": "datum.p=='c' && datum.g==2 && datum.k=='plain'"}], "mark": {"type": "text", "align": "left", "baseline": "alphabetic"}, "encoding": {"text": {"field": "t"}}},
     {"data": {"name": "notes"}, "transform": [{"filter": "datum.p=='c' && datum.g==2 && datum.k=='rho'"}], "layer": [
       {"mark": {"type": "text", "align": "left", "baseline": "alphabetic", "text": "\u03c1"}},
       {"mark": {"type": "text", "align": "left", "baseline": "alphabetic", "text": "z", "fontSize": 13, "dx": 11.5, "dy": 4}},
       {"mark": {"type": "text", "align": "left", "baseline": "alphabetic", "dx": 21}, "encoding": {"text": {"field": "t"}}}
     ]},
     {"data": {"name": "notes"}, "transform": [{"filter": "datum.p=='c' && datum.g==2 && datum.k=='h'"}], "layer": [
       {"mark": {"type": "text", "align": "left", "baseline": "alphabetic", "text": "h", "font": "Liberation Serif", "fontStyle": "italic", "fontSize": 22}},
       {"mark": {"type": "text", "align": "left", "baseline": "alphabetic", "dx": 12.5}, "encoding": {"text": {"field": "t"}}}
     ]}
    ]
   }
  ]
 },
 {
  "width": 508, "height": 289,
  "title": {"text": "(d)", "orient": "bottom", "anchor": "start", "frame": "group", "dx": -102, "dy": -18, "offset": 0, "fontSize": 20, "fontWeight": "normal", "font": "Liberation Sans", "color": "black"},
  "encoding": {"y": {"field": "M", "type": "quantitative", "scale": {"domain": [0, 3600], "nice": false, "zero": false}, "axis": {"values": [0, 900, 1800, 2700, 3600], "title": "Support Moment, M (kN-m)"}}},
  "resolve": {"scale": {"x": "independent"}},
  "layer": [
   {
    "encoding": {"x": {"field": "w", "type": "quantitative", "scale": {"domain": [0, 55], "range": [0, 61.4], "nice": false, "zero": false}, "axis": {"values": [0, 40], "title": null, "orient": "bottom"}}},
    "layer": [
     {"data": {"name": "d1"}, "transform": [{"filter": "datum.s=='Experiment'"}], "mark": {"type": "line"}, "encoding": {"order": {"value": null}, "color": {"field": "s", "type": "nominal", "scale": {"domain": ["Experiment", "Analytical"], "range": ["#000000", "#b4b4b4"]}, "legend": null}, "strokeWidth": {"field": "s", "type": "nominal", "scale": {"domain": ["Experiment", "Analytical"], "range": [1.4, 4]}, "legend": null}}},
     {"data": {"name": "d1"}, "transform": [{"filter": "datum.s=='Analytical'"}], "mark": {"type": "line"}, "encoding": {"order": {"value": null}, "color": {"field": "s", "type": "nominal", "legend": null}, "strokeWidth": {"field": "s", "type": "nominal", "legend": null}}},
     {"data": {"name": "breaks"}, "transform": [{"filter": "datum.p=='d'"}], "mark": {"type": "rule"}, "encoding": {"x2": {"field": "w2"}, "y2": {"field": "M2"}}},
     {"data": {"name": "notes"}, "transform": [{"filter": "datum.p=='d' && datum.g==1 && datum.k=='plain'"}], "mark": {"type": "text", "align": "left", "baseline": "alphabetic"}, "encoding": {"text": {"field": "t"}}},
     {"data": {"name": "notes"}, "transform": [{"filter": "datum.p=='d' && datum.g==1 && datum.k=='rho'"}], "layer": [
       {"mark": {"type": "text", "align": "left", "baseline": "alphabetic", "text": "\u03c1"}},
       {"mark": {"type": "text", "align": "left", "baseline": "alphabetic", "text": "z", "fontSize": 13, "dx": 11.5, "dy": 4}},
       {"mark": {"type": "text", "align": "left", "baseline": "alphabetic", "dx": 21}, "encoding": {"text": {"field": "t"}}}
     ]}
    ]
   },
   {
    "encoding": {"x": {"field": "w", "type": "quantitative", "scale": {"domain": [-16, 400], "range": [72.7, 508], "nice": false, "zero": false}, "axis": {"values": [0, 100, 200, 300, 400], "title": "Displacement, w (mm)", "titleX": 254, "orient": "bottom"}}},
    "layer": [
     {"data": {"name": "d2"}, "transform": [{"filter": "datum.s=='Experiment'"}], "mark": {"type": "line"}, "encoding": {"order": {"value": null}, "color": {"field": "s", "type": "nominal", "legend": null}, "strokeWidth": {"field": "s", "type": "nominal", "legend": null}}},
     {"data": {"name": "d2"}, "transform": [{"filter": "datum.s=='Analytical'"}], "mark": {"type": "line"}, "encoding": {"order": {"value": null}, "color": {"field": "s", "type": "nominal", "legend": null}, "strokeWidth": {"field": "s", "type": "nominal", "legend": null}}},
     {"data": {"name": "notes"}, "transform": [{"filter": "datum.p=='d' && datum.g==2 && datum.k=='plain'"}], "mark": {"type": "text", "align": "left", "baseline": "alphabetic"}, "encoding": {"text": {"field": "t"}}},
     {"data": {"name": "notes"}, "transform": [{"filter": "datum.p=='d' && datum.g==2 && datum.k=='rho'"}], "layer": [
       {"mark": {"type": "text", "align": "left", "baseline": "alphabetic", "text": "\u03c1"}},
       {"mark": {"type": "text", "align": "left", "baseline": "alphabetic", "text": "z", "fontSize": 13, "dx": 11.5, "dy": 4}},
       {"mark": {"type": "text", "align": "left", "baseline": "alphabetic", "dx": 21}, "encoding": {"text": {"field": "t"}}}
     ]},
     {"data": {"name": "notes"}, "transform": [{"filter": "datum.p=='d' && datum.g==2 && datum.k=='h'"}], "layer": [
       {"mark": {"type": "text", "align": "left", "baseline": "alphabetic", "text": "h", "font": "Liberation Serif", "fontStyle": "italic", "fontSize": 22}},
       {"mark": {"type": "text", "align": "left", "baseline": "alphabetic", "dx": 12.5}, "encoding": {"text": {"field": "t"}}}
     ]}
    ]
   }
  ]
 }
]
}
